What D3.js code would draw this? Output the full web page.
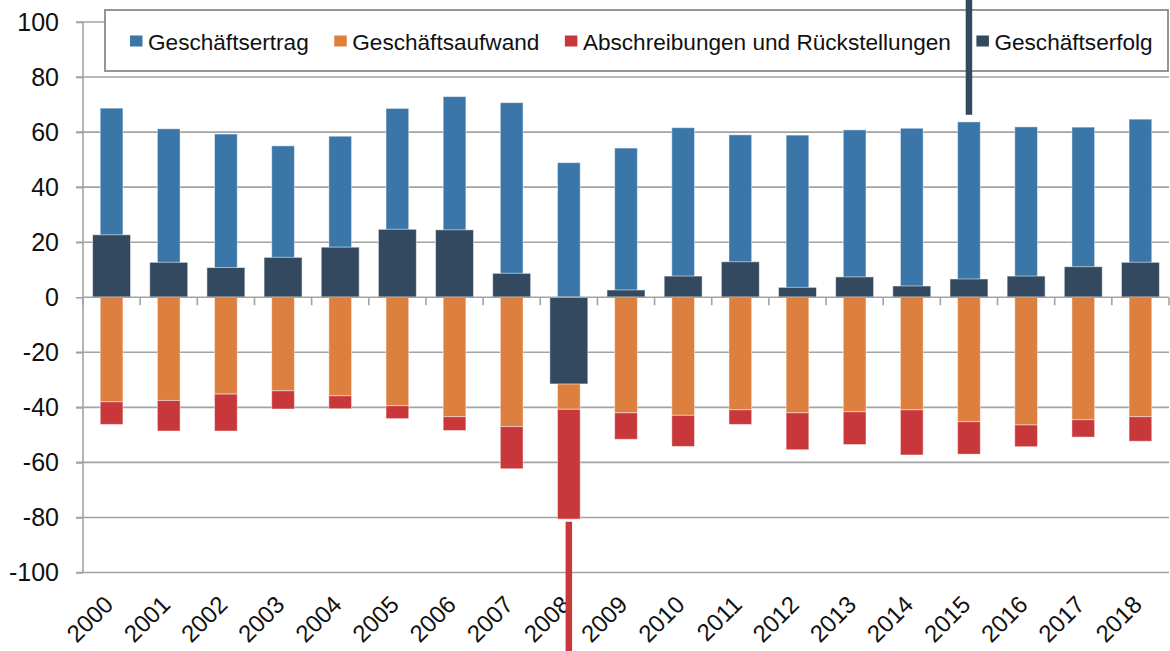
<!DOCTYPE html>
<html>
<head>
<meta charset="utf-8">
<script src="https://cdn.jsdelivr.net/npm/d3@7/dist/d3.min.js"></script>
<style>
  html, body { margin: 0; padding: 0; background: #fff; }
  svg { display: block; font-family: "Liberation Sans", Arial, sans-serif; }
</style>
</head>
<body>
<svg id="chart" width="1170" height="651"></svg>
<script>
// Jahre 2000–2018
const years = ["2000","2001","2002","2003","2004","2005","2006","2007","2008","2009",
               "2010","2011","2012","2013","2014","2015","2016","2017","2018"];

// Geschäftsertrag (positiv)
const ertrag = [68.7, 61.2, 59.3, 55.0, 58.5, 68.6, 72.9, 70.7, 48.9, 54.2,
                61.6, 59.0, 58.9, 60.8, 61.4, 63.7, 61.9, 61.8, 64.7];
// Geschäftsaufwand (negativ)
const aufwand = [-38.0, -37.5, -35.2, -34.0, -35.8, -39.4, -43.4, -47.0, -40.7, -42.0,
                 -42.9, -40.9, -42.0, -41.6, -40.9, -45.2, -46.4, -44.5, -43.4];
// Abschreibungen und Rückstellungen (negativ, unter den Aufwand gestapelt)
const abschreibungen = [-8.2, -11.1, -13.4, -6.6, -4.7, -4.7, -5.0, -15.3, -39.9, -9.6,
                        -11.3, -5.3, -13.4, -11.9, -16.4, -11.8, -7.9, -6.3, -8.9];
// Geschäftserfolg
const erfolg = [22.7, 12.7, 10.8, 14.5, 18.2, 24.7, 24.5, 8.7, -31.5, 2.65,
                7.7, 12.9, 3.6, 7.4, 4.1, 6.65, 7.7, 11.1, 12.7];

// Hervorhebungslinien über den Achsenbereich hinaus
const spikes = [
  { year: "2008", series: "abschreibungen", from: -81.6, to: -130 },
  { year: "2015", series: "erfolg", from: 66.3, to: 110 }
];

const yTicks = [-100, -80, -60, -40, -20, 0, 20, 40, 60, 80, 100];

const seriesNames = ["Geschäftsertrag", "Geschäftsaufwand", "Abschreibungen und Rückstellungen", "Geschäftserfolg"];
const colors = {
  ertrag: "#3a76a8",
  aufwand: "#dd7f3e",
  abschreibungen: "#c8373a",
  erfolg: "#32495f"
};
const legendColors = [colors.ertrag, colors.aufwand, colors.abschreibungen, colors.erfolg];

const svg = d3.select("#chart");
const plotLeft = 83, plotRight = 1169, plotTop = 22, plotBottom = 572.5;
const gridColor = "#a3a3a3";

const y = d3.scaleLinear().domain([-100, 100]).range([plotBottom, plotTop]);

// Stapelsäulen (schmal) und Erfolgssäulen (breit), jeweils mittig im Band
const xNarrow = d3.scaleBand().domain(years).range([plotLeft, plotRight])
  .paddingInner(0.603).paddingOuter(0.3015);
const xWide = d3.scaleBand().domain(years).range([plotLeft, plotRight])
  .paddingInner(0.335).paddingOuter(0.1675);
const step = xNarrow.step();
const center = yr => xNarrow(yr) + xNarrow.bandwidth() / 2;

// Gitterlinien
svg.append("g").selectAll("line")
  .data(yTicks.filter(v => v !== 0))
  .join("line")
  .attr("x1", plotLeft - 7).attr("x2", plotRight)
  .attr("y1", d => y(d)).attr("y2", d => y(d))
  .attr("stroke", gridColor).attr("stroke-width", 1.6);

const data = years.map((yr, i) => ({
  year: yr,
  ertrag: ertrag[i],
  aufwand: aufwand[i],
  abschreibungen: abschreibungen[i],
  erfolg: erfolg[i]
}));

const barStroke = "rgba(255,255,255,0.45)";

// Geschäftsertrag
svg.append("g").selectAll("rect")
  .data(data).join("rect")
  .attr("x", d => xNarrow(d.year)).attr("width", xNarrow.bandwidth())
  .attr("y", d => y(d.ertrag)).attr("height", d => y(0) - y(d.ertrag))
  .attr("fill", colors.ertrag).attr("stroke", barStroke).attr("stroke-width", 1);

// Geschäftsaufwand
svg.append("g").selectAll("rect")
  .data(data).join("rect")
  .attr("x", d => xNarrow(d.year)).attr("width", xNarrow.bandwidth())
  .attr("y", y(0)).attr("height", d => y(d.aufwand) - y(0))
  .attr("fill", colors.aufwand).attr("stroke", barStroke).attr("stroke-width", 1);

// Abschreibungen und Rückstellungen
svg.append("g").selectAll("rect")
  .data(data).join("rect")
  .attr("x", d => xNarrow(d.year)).attr("width", xNarrow.bandwidth())
  .attr("y", d => y(d.aufwand))
  .attr("height", d => y(d.aufwand + d.abschreibungen) - y(d.aufwand))
  .attr("fill", colors.abschreibungen).attr("stroke", barStroke).attr("stroke-width", 1);

// Geschäftserfolg (breite Säulen, im Vordergrund)
svg.append("g").selectAll("rect")
  .data(data).join("rect")
  .attr("x", d => xWide(d.year)).attr("width", xWide.bandwidth())
  .attr("y", d => y(Math.max(0, d.erfolg)))
  .attr("height", d => Math.abs(y(d.erfolg) - y(0)))
  .attr("fill", colors.erfolg).attr("stroke", "rgba(255,255,255,0.55)").attr("stroke-width", 1);

// Y-Achse
const yAxis = svg.append("g").attr("transform", `translate(${plotLeft},0)`)
  .call(d3.axisLeft(y).tickValues(yTicks).tickSize(7).tickPadding(17).tickFormat(d3.format("d")));
yAxis.select(".domain").attr("stroke", gridColor).attr("stroke-width", 1.6)
  .attr("d", `M0,${plotTop}V${plotBottom}`);
yAxis.selectAll(".tick line").attr("stroke", gridColor).attr("stroke-width", 1.6);
yAxis.selectAll(".tick text")
  .attr("font-size", 25).attr("fill", "#111")
  .attr("font-family", "'Liberation Sans', Arial, sans-serif")
  .text(d => d < 0 ? "-" + Math.abs(d) : d);

// X-Achse (Nulllinie) mit Teilstrichen an den Bandgrenzen
const xAxisG = svg.append("g");
xAxisG.append("line")
  .attr("x1", plotLeft).attr("x2", plotRight).attr("y1", y(0)).attr("y2", y(0))
  .attr("stroke", gridColor).attr("stroke-width", 1.6);
xAxisG.selectAll("line.tk")
  .data(d3.range(years.length + 1))
  .join("line").attr("class", "tk")
  .attr("x1", i => plotLeft + i * step).attr("x2", i => plotLeft + i * step)
  .attr("y1", y(0)).attr("y2", y(0) + 8)
  .attr("stroke", gridColor).attr("stroke-width", 1.6);

// Jahresbeschriftungen, um 45° gedreht
svg.append("g").selectAll("text")
  .data(years).join("text")
  .attr("transform", d => `translate(${center(d) + 3},${606}) rotate(-45)`)
  .attr("text-anchor", "end")
  .attr("font-size", 24).attr("fill", "#111")
  .text(d => d);

// Legende
const legend = svg.append("g");
legend.append("rect")
  .attr("x", 105).attr("y", 10).attr("width", 1063).attr("height", 61)
  .attr("fill", "#fff").attr("stroke", "#8a8a8a").attr("stroke-width", 1.8);

let lx = 130;
seriesNames.forEach((name, i) => {
  legend.append("rect")
    .attr("x", lx).attr("y", 35.5).attr("width", 12.5).attr("height", 11)
    .attr("fill", legendColors[i]);
  const t = legend.append("text")
    .attr("x", lx + 18).attr("y", 49.5)
    .attr("font-size", 22.6).attr("fill", "#111")
    .text(name);
  lx = lx + 18 + t.node().getComputedTextLength() + 25.5;
});

// Hervorhebungslinien
svg.append("g").selectAll("line")
  .data(spikes).join("line")
  .attr("x1", d => center(d.year)).attr("x2", d => center(d.year))
  .attr("y1", d => y(d.from)).attr("y2", d => y(d.to))
  .attr("stroke", d => colors[d.series]).attr("stroke-width", 6.5);
</script>
</body>
</html>
